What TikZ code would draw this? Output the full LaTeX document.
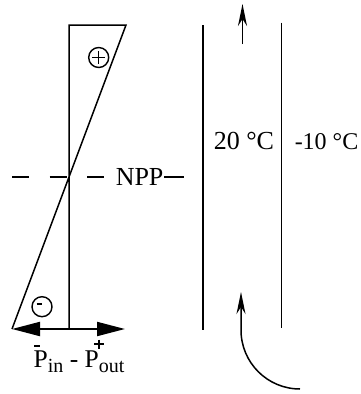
\documentclass[tikz,border=0pt]{standalone}
\usepackage{fontspec}
\setmainfont{Liberation Serif}
\usetikzlibrary{arrows.meta}
\begin{document}
\begin{tikzpicture}[x=1pt,y=-1pt, line width=1.5pt,
  lbl/.style={font=\fontsize{26}{30}\selectfont, inner sep=0pt, anchor=base west},
  bigtip/.style={-{Triangle[length=28pt,width=14pt]}, line width=2pt},
  flowtip/.style={-{Stealth[length=22pt,width=9pt,inset=7pt]}, line width=1.5pt},
  ring/.style={circle, draw, minimum size=20pt, inner sep=0pt, line width=1.4pt}]
\useasboundingbox (0,0) rectangle (360,394);
% pressure diagram
\coordinate (top) at (69,25);
\coordinate (topR) at (126,25);
\coordinate (bot) at (69,329);
\coordinate (botL) at (12,329);
\coordinate (arrR) at (125,329);
\draw (bot) -- (top) -- (topR) -- (botL);
\draw[bigtip] (bot) -- (botL);
\draw[bigtip] (bot) -- (arrR);
% signs
\node[ring] (plus) at (98.7,57.5) {};
\draw ([shift={(-6.5,0)}]plus.center) -- ([shift={(6.5,0)}]plus.center);
\draw ([shift={(0,-6.5)}]plus.center) -- ([shift={(0,6.5)}]plus.center);
\node[ring] (minus) at (42,306.7) {};
\draw[line width=2.4pt] ([shift={(-5.5,-3)}]minus.center) -- ([shift={(-0.5,-3)}]minus.center);
% NPP line
\coordinate (d0) at (12,177);
\coordinate (d1) at (104,177);
\coordinate (d2) at (184,177);
\draw[dash pattern=on 17pt off 20.5pt] (d0) -- (d1);
\node[lbl] (npp) at (115,185.7) {NPP};
\draw (npp.east |- d0) -- (d2);
% pressure label
\node[lbl, font=\fontsize{25.5}{30}\selectfont] (plab) at (33,367) {P\raisebox{-5pt}{\fontsize{20}{24}\selectfont in} - P\raisebox{-5pt}{\fontsize{20}{24}\selectfont out}};
\coordinate (m0) at (34,345.5);
\coordinate (m1) at (39.5,345.5);
\draw[line width=2pt] (m0) -- (m1);
\coordinate (p0) at (94,344);
\coordinate (p1) at (104,344);
\coordinate (p2) at (99,339.5);
\coordinate (p3) at (99,349);
\draw[line width=1.8pt] (p0) -- (p1);
\draw[line width=1.8pt] (p2) -- (p3);
% channel
\coordinate (c1t) at (203,25);
\coordinate (c1b) at (203,330);
\coordinate (c2t) at (281.7,22.7);
\coordinate (c2b) at (281.7,327.7);
\draw (c1t) -- (c1b);
\draw (c2t) -- (c2b);
\node[lbl] (t20) at (213,149) {20 °C};
\node[lbl, font=\fontsize{24}{30}\selectfont] (tm10) at (294,149) {-10 °C};
% flow arrows
\coordinate (u0) at (242.5,44);
\coordinate (u1) at (242.5,4);
\draw[flowtip] (u0) -- (u1);
\coordinate (f0) at (300,389);
\coordinate (f1) at (241,292);
\draw[flowtip] (f0) .. controls (267.4,389) and (241,362.6) .. (241,330) -- (f1);
\end{tikzpicture}
\end{document}
